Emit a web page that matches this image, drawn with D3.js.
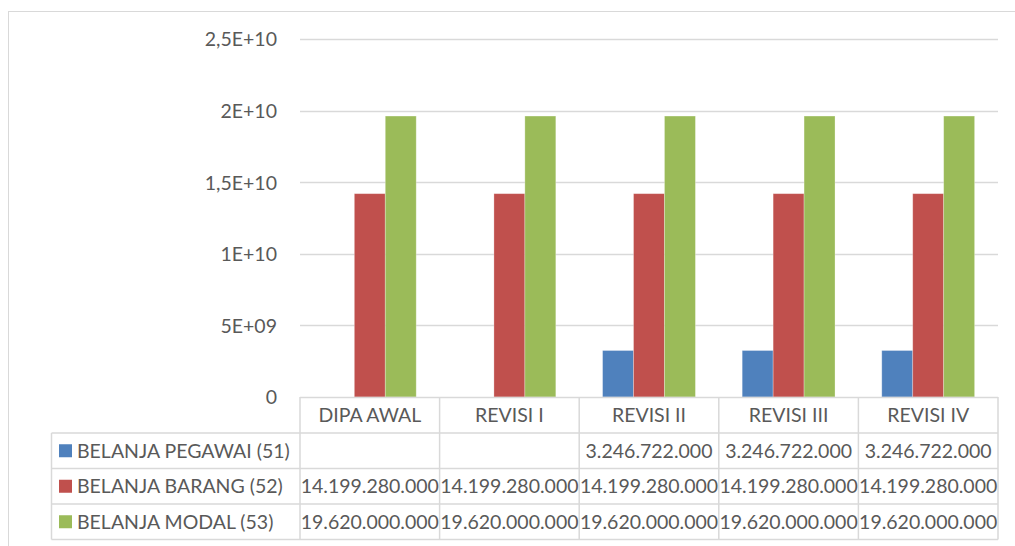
<!DOCTYPE html>
<html lang="id">
<head>
<meta charset="UTF-8">
<title>Belanja per revisi DIPA</title>
<script src="https://d3js.org/d3.v7.min.js"></script>
<style>
    body { margin: 0; background: #fff; }
    svg text { font-family: Lato, "Open Sans", sans-serif; fill: #595959; }
</style>
</head>
<body>
<div id="chart"></div>
<script>
    // categories and series
    const categories = ["DIPA AWAL", "REVISI I", "REVISI II", "REVISI III", "REVISI IV"];
    const seriesNames = ["BELANJA PEGAWAI (51)", "BELANJA BARANG (52)", "BELANJA MODAL (53)"];
    const pegawai = [null, null, 3246722000, 3246722000, 3246722000];
    const barang = [14199280000, 14199280000, 14199280000, 14199280000, 14199280000];
    const modal = [19620000000, 19620000000, 19620000000, 19620000000, 19620000000];
    const seriesColors = ["#4f81bd", "#c0504d", "#9bbb59"];

    // y axis ticks
    const yTicks = [0, 5e9, 1e10, 1.5e10, 2e10, 2.5e10];
    const yTickLabels = ["0", "5E+09", "1E+10", "1,5E+10", "2E+10", "2,5E+10"];

    const seriesValues = [pegawai, barang, modal];

    const W = 1015, H = 546;
    const fontSize = 19.5;
    const plot = { left: 300, right: 998, top: 39, bottom: 397 };
    const rowH = 36;

    const svg = d3.select("#chart").append("svg")
        .attr("width", W).attr("height", H);

    // outer chart frame
    svg.append("rect")
        .attr("x", 8.5).attr("y", 11.5)
        .attr("width", W + 10).attr("height", H + 10)
        .attr("fill", "none").attr("stroke", "#d9d9d9");

    const x = d3.scaleBand().domain(categories).range([plot.left, plot.right]).padding(0);
    const gap = x.bandwidth() * 0.335;
    const x1 = d3.scaleBand().domain(d3.range(seriesNames.length))
        .range([gap / 2, x.bandwidth() - gap / 2]).padding(0);
    const y = d3.scaleLinear().domain([0, 2.5e10]).range([plot.bottom, plot.top]);

    // gridlines
    svg.append("g").selectAll("line")
        .data(yTicks.filter(d => d > 0))
        .join("line")
        .attr("x1", plot.left).attr("x2", plot.right)
        .attr("y1", d => Math.round(y(d)) + 0.5).attr("y2", d => Math.round(y(d)) + 0.5)
        .attr("stroke", "#d9d9d9").attr("stroke-width", 1.3);

    // y labels
    const yAxis = d3.axisLeft(y).tickValues(yTicks)
        .tickFormat((d, i) => yTickLabels[i]).tickSize(0).tickPadding(0);
    const ya = svg.append("g").attr("transform", "translate(277,0)").call(yAxis);
    ya.select(".domain").remove();
    ya.selectAll("text")
        .style("font-size", fontSize + "px")
        .style("font-family", "Lato, 'Open Sans', sans-serif")
        .attr("fill", "#595959")
        .attr("dy", "0.35em");

    // bars
    seriesValues.forEach((vals, s) => {
        svg.append("g").selectAll("rect")
            .data(vals.map((v, i) => ({ v, c: categories[i] })).filter(d => d.v != null))
            .join("rect")
            .attr("x", d => x(d.c) + x1(s))
            .attr("y", d => y(d.v))
            .attr("width", x1.bandwidth())
            .attr("height", d => y(0) - y(d.v))
            .attr("fill", seriesColors[s])
            .attr("stroke", "#fff").attr("stroke-opacity", 0.35).attr("stroke-width", 0.8);
    });

    // data table
    const fmt = d3.formatLocale({ decimal: ",", thousands: ".", grouping: [3], currency: ["", ""] }).format(",");
    const tableLeft = 51.5;
    const rows = seriesNames.length;
    const tbl = svg.append("g");
    const lineColor = "#d9d9d9";

    // horizontal lines
    tbl.append("line")
        .attr("x1", plot.left).attr("x2", plot.right)
        .attr("y1", plot.bottom + 0.5).attr("y2", plot.bottom + 0.5)
        .attr("stroke", lineColor).attr("stroke-width", 1.5);
    for (let r = 0; r <= rows; r++) {
        const yy = plot.bottom + rowH * (r + 1) - r * 0.5;
        tbl.append("line")
            .attr("x1", tableLeft).attr("x2", plot.right)
            .attr("y1", yy).attr("y2", yy)
            .attr("stroke", lineColor).attr("stroke-width", 1.5);
    }
    const rowY = r => plot.bottom + rowH * (r + 1) - r * 0.5;
    // vertical lines
    tbl.append("line")
        .attr("x1", tableLeft).attr("x2", tableLeft)
        .attr("y1", rowY(0)).attr("y2", rowY(rows))
        .attr("stroke", lineColor).attr("stroke-width", 1.5);
    categories.concat(["_end"]).forEach((c, i) => {
        const xx = i < categories.length ? x(c) : plot.right;
        tbl.append("line")
            .attr("x1", xx).attr("x2", xx)
            .attr("y1", plot.bottom).attr("y2", rowY(rows))
            .attr("stroke", lineColor).attr("stroke-width", 1.5);
    });

    // header labels
    tbl.selectAll(".cat")
        .data(categories)
        .join("text")
        .attr("class", "cat")
        .attr("x", d => x(d) + x.bandwidth() / 2)
        .attr("y", (plot.bottom + rowY(0)) / 2)
        .attr("dy", "0.35em")
        .attr("text-anchor", "middle")
        .style("font-size", fontSize + "px")
        .text(d => d);

    // row legends and values
    seriesNames.forEach((name, s) => {
        const cy = (rowY(s) + rowY(s + 1)) / 2;
        tbl.append("rect")
            .attr("x", 59).attr("y", cy - 6.5)
            .attr("width", 13).attr("height", 13)
            .attr("fill", seriesColors[s]);
        tbl.append("text")
            .attr("x", 77).attr("y", cy).attr("dy", "0.35em")
            .style("font-size", fontSize + "px")
            .text(name);
        tbl.append("g").selectAll("text")
            .data(seriesValues[s].map((v, i) => ({ v, c: categories[i] })).filter(d => d.v != null))
            .join("text")
            .attr("x", d => x(d.c) + x.bandwidth() / 2)
            .attr("y", cy).attr("dy", "0.35em")
            .attr("text-anchor", "middle")
            .style("font-size", fontSize + "px")
            .text(d => fmt(d.v));
    });
</script>
</body>
</html>
